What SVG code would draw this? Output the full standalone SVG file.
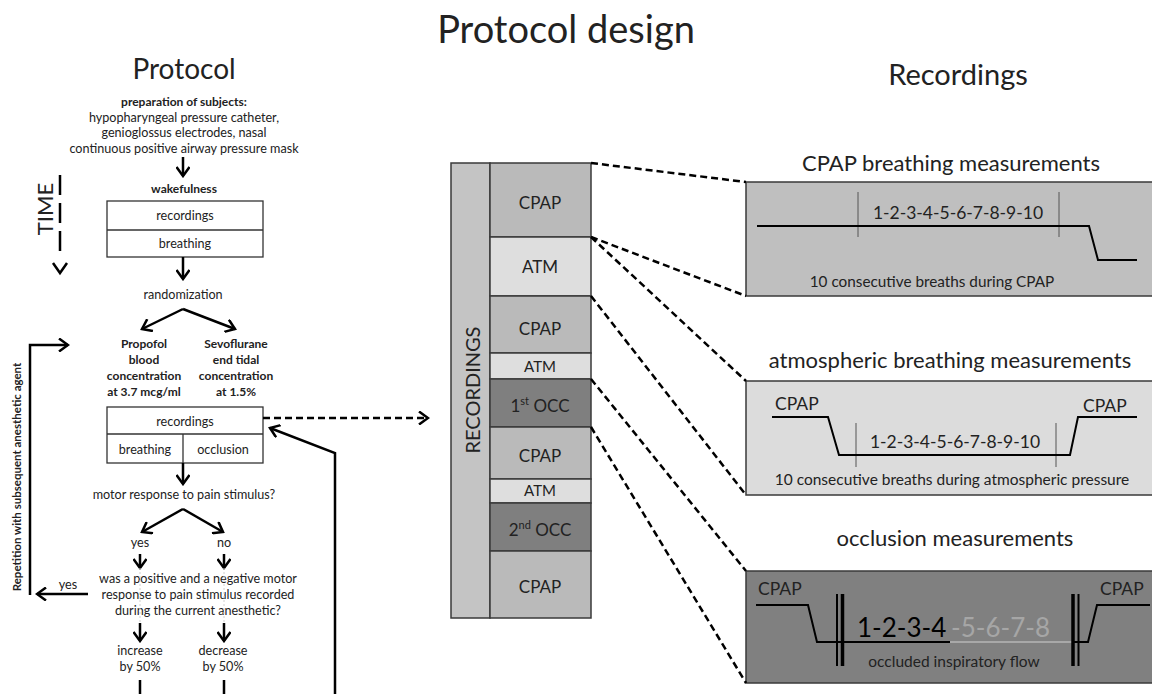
<svg xmlns="http://www.w3.org/2000/svg" width="1152" height="694" viewBox="0 0 1152 694">
<style>
text{font-family:Lato,"Open Sans","Liberation Sans",sans-serif;fill:#222}
.c{text-anchor:middle}
.b{font-weight:bold}
.s{font-size:12.6px}
.sb{font-size:12px}
.box{fill:#fff;stroke:#333;stroke-width:1.3}
.con{fill:none;stroke:#000;stroke-width:2.5}
.dash{fill:none;stroke:#000;stroke-width:2.5;stroke-dasharray:7 4}
.wave{fill:none;stroke:#000;stroke-width:2}
.tick{stroke:#555;stroke-width:1}
.seg{stroke:#3a3a3a;stroke-width:1.5}
</style>
<defs>
<marker id="ah" viewBox="0 0 14 14" refX="12" refY="7" markerWidth="14" markerHeight="14" orient="auto" markerUnits="userSpaceOnUse">
<path d="M3,0.5 L12,7 L3,13.5" fill="none" stroke="#000" stroke-width="2.5"/>
</marker>
</defs>
<rect width="1152" height="694" fill="#fff"/>

<g id="titles">
<text class="c" x="566" y="43" font-size="38">Protocol design</text>
<text class="c" x="184" y="79" font-size="28">Protocol</text>
<text class="c" x="958" y="85" font-size="29">Recordings</text>
</g>

<g id="time">
<text class="c" transform="translate(53,209) rotate(-90)" font-size="22">TIME</text>
<line x1="60" y1="175" x2="60" y2="252" stroke="#000" stroke-width="2.5" stroke-dasharray="20 8"/>
<path d="M53,263 L60,273 L67,263" fill="none" stroke="#000" stroke-width="2.5"/>
</g>

<g id="repetition">
<text class="c b" transform="translate(21,477) rotate(-90)" font-size="11.5">Repetition with subsequent anesthetic agent</text>
</g>

<g id="preparation">
<text class="c b sb" x="184" y="106">preparation of subjects:</text>
<text class="c s" x="184" y="122">hypopharyngeal pressure catheter,</text>
<text class="c s" x="184" y="137">genioglossus electrodes, nasal</text>
<text class="c s" x="184" y="153">continuous positive airway pressure mask</text>
</g>

<g id="wakefulness">
<text class="c b sb" x="184" y="193">wakefulness</text>
<rect class="box" x="107" y="201" width="156" height="56"/>
<line x1="107" y1="230" x2="263" y2="230" stroke="#333" stroke-width="1.3"/>
<text class="c s" x="185" y="220">recordings</text>
<text class="c s" x="185" y="248">breathing</text>
</g>

<g id="randomization">
<text class="c s" x="183" y="299">randomization</text>
</g>

<g id="propofol">
<text class="c b sb" x="144" y="348">Propofol</text>
<text class="c b sb" x="144" y="364">blood</text>
<text class="c b sb" x="144" y="380">concentration</text>
<text class="c b sb" x="144" y="396">at 3.7 mcg/ml</text>
</g>

<g id="sevoflurane">
<text class="c b sb" x="236" y="348">Sevoflurane</text>
<text class="c b sb" x="236" y="364">end tidal</text>
<text class="c b sb" x="236" y="380">concentration</text>
<text class="c b sb" x="236" y="396">at 1.5%</text>
</g>

<g id="anesthesia-recordings">
<rect class="box" x="107" y="407" width="156" height="56"/>
<line x1="107" y1="434" x2="263" y2="434" stroke="#333" stroke-width="1.3"/>
<line x1="183" y1="434" x2="183" y2="463" stroke="#333" stroke-width="1.3"/>
<text class="c s" x="185" y="426">recordings</text>
<text class="c s" x="145" y="454">breathing</text>
<text class="c s" x="223" y="454">occlusion</text>
</g>

<g id="motor">
<text class="c s" x="184" y="499">motor response to pain stimulus?</text>
<text class="c s" x="140" y="547">yes</text>
<text class="c s" x="224" y="547">no</text>
</g>

<g id="question">
<text class="c s" x="198" y="583">was a positive and a negative motor</text>
<text class="c s" x="198" y="599">response to pain stimulus recorded</text>
<text class="c s" x="198" y="615">during the current anesthetic?</text>
<text class="c s" x="68" y="589">yes</text>
</g>

<g id="increase">
<text class="c s" x="140" y="655">increase</text>
<text class="c s" x="140" y="671">by 50%</text>
</g>
<g id="decrease">
<text class="c s" x="223" y="655">decrease</text>
<text class="c s" x="223" y="671">by 50%</text>
</g>

<g id="recordings-bar">
<rect x="451" y="163" width="39" height="455" fill="#c4c4c4" stroke="#3a3a3a" stroke-width="1.5"/>
<text class="c" transform="translate(480,390) rotate(-90)" font-size="20">RECORDINGS</text>
</g>

<g id="segments">
<rect class="seg" x="490" y="163" width="101" height="74" fill="#bababa"/>
<rect class="seg" x="490" y="237" width="101" height="59" fill="#dedede"/>
<rect class="seg" x="490" y="296" width="101" height="57" fill="#bababa"/>
<rect class="seg" x="490" y="353" width="101" height="26" fill="#dedede"/>
<rect class="seg" x="490" y="379" width="101" height="48" fill="#7f7f7f"/>
<rect class="seg" x="490" y="427" width="101" height="52" fill="#bababa"/>
<rect class="seg" x="490" y="479" width="101" height="24" fill="#dedede"/>
<rect class="seg" x="490" y="503" width="101" height="48" fill="#7f7f7f"/>
<rect class="seg" x="490" y="551" width="101" height="67" fill="#bababa"/>
<text class="c" x="540" y="209" font-size="17">CPAP</text>
<text class="c" x="540" y="273" font-size="17">ATM</text>
<text class="c" x="540" y="335" font-size="17">CPAP</text>
<text class="c" x="540" y="372" font-size="15">ATM</text>
<text class="c" x="540" y="412" font-size="17">1<tspan font-size="11" dy="-7">st</tspan><tspan dy="7"> OCC</tspan></text>
<text class="c" x="540" y="462" font-size="17">CPAP</text>
<text class="c" x="540" y="496" font-size="15">ATM</text>
<text class="c" x="540" y="536" font-size="17">2<tspan font-size="11" dy="-7">nd</tspan><tspan dy="7"> OCC</tspan></text>
<text class="c" x="540" y="593" font-size="17">CPAP</text>
</g>

<g id="cpap-panel">
<text class="c" x="951" y="171" font-size="22">CPAP breathing measurements</text>
<rect x="746" y="182" width="410" height="114" fill="#bfbfbf" stroke="#3a3a3a" stroke-width="1.5"/>
<line class="tick" x1="858" y1="192" x2="858" y2="237"/>
<line class="tick" x1="1059" y1="192" x2="1059" y2="237"/>
<path class="wave" d="M757,226 H1089 L1098,260 H1137"/>
<text class="c" x="958" y="219" font-size="17.5">1-2-3-4-5-6-7-8-9-10</text>
<text class="c" x="932" y="287" font-size="15.3">10 consecutive breaths during CPAP</text>
</g>

<g id="atm-panel">
<text class="c" x="950" y="368" font-size="22">atmospheric breathing measurements</text>
<rect x="746" y="381" width="410" height="114" fill="#dcdcdc" stroke="#3a3a3a" stroke-width="1.5"/>
<text x="775" y="410" font-size="17.5">CPAP</text>
<text x="1083" y="412" font-size="17.5">CPAP</text>
<line class="tick" x1="856" y1="423" x2="856" y2="467"/>
<line class="tick" x1="1056" y1="423" x2="1056" y2="467"/>
<path class="wave" d="M772,417 H828 L839,455 H1070 L1078,417 H1137"/>
<text class="c" x="955" y="448" font-size="17.5">1-2-3-4-5-6-7-8-9-10</text>
<text class="c" x="952" y="485" font-size="15.5">10 consecutive breaths during atmospheric pressure</text>
</g>

<g id="occ-panel">
<text class="c" x="955" y="546" font-size="22">occlusion measurements</text>
<rect x="746" y="571" width="410" height="112" fill="#808080" stroke="#3a3a3a" stroke-width="1.5"/>
<text x="758" y="595" font-size="17.5">CPAP</text>
<text x="1100" y="595" font-size="17.5">CPAP</text>
<path class="wave" d="M756,605 H808 L817,642 H950"/>
<path d="M950,642 H1073" fill="none" stroke="#a8a8a8" stroke-width="2"/>
<path class="wave" d="M1073,642 H1088 L1097,605 H1150"/>
<line x1="837" y1="594" x2="837" y2="666" stroke="#000" stroke-width="2"/>
<line x1="842.5" y1="594" x2="842.5" y2="666" stroke="#000" stroke-width="3.5"/>
<line x1="1073" y1="594" x2="1073" y2="666" stroke="#000" stroke-width="3.5"/>
<line x1="1078.5" y1="594" x2="1078.5" y2="666" stroke="#000" stroke-width="2"/>
<text x="857" y="637" font-size="26" style="fill:#000">1-2-3-4</text>
<text x="951" y="637" font-size="26" style="fill:#a6a6a6">-5-6-7-8</text>
<text class="c" x="954" y="667" font-size="15.5">occluded inspiratory flow</text>
</g>

<g id="connectors">
<path class="con" d="M183,157 V176" marker-end="url(#ah)"/>
<path class="con" d="M183,257 V279" marker-end="url(#ah)"/>
<path class="con" d="M183,309 L142,329" marker-end="url(#ah)"/>
<path class="con" d="M183,309 L235,329" marker-end="url(#ah)"/>
<path class="con" d="M183,463 V484" marker-end="url(#ah)"/>
<path class="con" d="M183,509 L142,532" marker-end="url(#ah)"/>
<path class="con" d="M183,509 L223,532" marker-end="url(#ah)"/>
<path class="con" d="M140,554 V568" marker-end="url(#ah)"/>
<path class="con" d="M224,554 V568" marker-end="url(#ah)"/>
<path d="M140,568 V623 M224,568 V623" fill="none" stroke="#d0d0d0" stroke-width="1" stroke-dasharray="2 2"/>
<path class="con" d="M140,623 V641" marker-end="url(#ah)"/>
<path class="con" d="M224,623 V641" marker-end="url(#ah)"/>
<path class="con" d="M140,680 V694 M224,680 V694"/>
<path class="con" d="M88,594 H37" marker-end="url(#ah)"/>
<path class="con" d="M30,595 V345 H68" marker-end="url(#ah)"/>
<path class="con" d="M335,694 V453 L270,428" marker-end="url(#ah)"/>
<path class="dash" d="M263,418 H428" marker-end="url(#ah)"/>
<path class="dash" d="M591,163 L746,182"/>
<path class="dash" d="M591,237 L746,296"/>
<path class="dash" d="M591,237 L746,381"/>
<path class="dash" d="M591,296 L746,495"/>
<path class="dash" d="M591,379 L746,571"/>
<path class="dash" d="M591,427 L746,683"/>
</g>
</svg>
